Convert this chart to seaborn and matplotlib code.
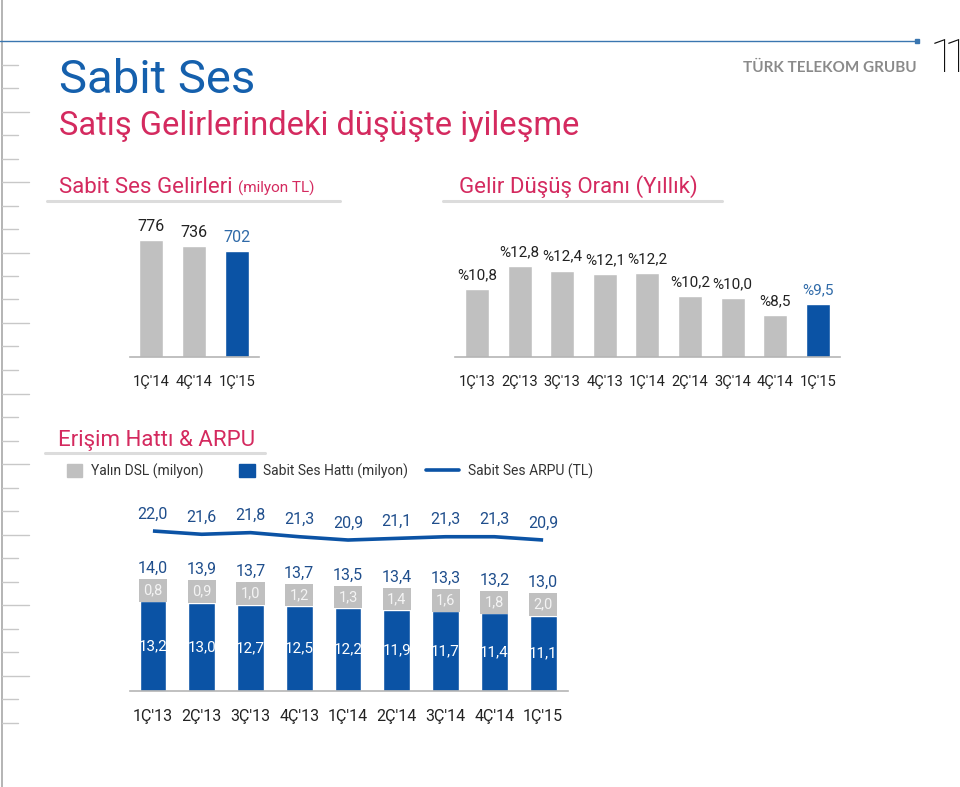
import numpy as np
import matplotlib.pyplot as plt
import matplotlib.patches as mpatches
from matplotlib.lines import Line2D
from matplotlib.legend_handler import HandlerPatch
import seaborn as sns

# Sabit Ses Gelirleri (milyon TL)
rev_periods = ["1Ç'14", "4Ç'14", "1Ç'15"]
rev_values = [776, 736, 702]

# Gelir Düşüş Oranı (Yıllık), %
drop_periods = ["1Ç'13", "2Ç'13", "3Ç'13", "4Ç'13", "1Ç'14", "2Ç'14", "3Ç'14", "4Ç'14", "1Ç'15"]
drop_values = [10.8, 12.8, 12.4, 12.1, 12.2, 10.2, 10.0, 8.5, 9.5]

# Erişim Hattı & ARPU
line_periods = ["1Ç'13", "2Ç'13", "3Ç'13", "4Ç'13", "1Ç'14", "2Ç'14", "3Ç'14", "4Ç'14", "1Ç'15"]
pstn_values = [13.2, 13.0, 12.7, 12.5, 12.2, 11.9, 11.7, 11.4, 11.1]
dsl_values = [0.8, 0.9, 1.0, 1.2, 1.3, 1.4, 1.6, 1.8, 2.0]
total_values = [14.0, 13.9, 13.7, 13.7, 13.5, 13.4, 13.3, 13.2, 13.0]
arpu_values = [22.0, 21.6, 21.8, 21.3, 20.9, 21.1, 21.3, 21.3, 20.9]

BLUE = "#0b53a5"
GRAY = "#c0c0c0"
CRIMSON = "#d42a5f"
TITLE_BLUE = "#1560ad"
LABEL_BLUE = "#1f4e8c"
DARK = "#222222"

W, H = 960, 787

sns.set_theme(style="white")
plt.rcParams["font.family"] = ["Roboto", "DejaVu Sans"]


def fx(x):
    return x / W


def fy(y):
    return 1 - y / H


def add_ax(left, top, right, bottom):
    return fig.add_axes([fx(left), fy(bottom), (right - left) / W, (bottom - top) / H])


def dec(v, fmt="{:.1f}"):
    return fmt.format(v).replace(".", ",")


def style_ax(ax, tick_size):
    for s in ["top", "right", "left"]:
        ax.spines[s].set_visible(False)
    ax.spines["bottom"].set_color("#b5b5b5")
    ax.spines["bottom"].set_linewidth(1.2)
    ax.set_yticks([])
    ax.set_ylabel("")
    ax.set_xlabel("")
    ax.tick_params(axis="x", length=0, pad=13, labelsize=tick_size, labelcolor=DARK)
    ax.patch.set_alpha(0)


fig = plt.figure(figsize=(W / 100, H / 100), dpi=100)

# page decoration
fig.add_artist(Line2D([fx(2), fx(2)], [0, 1], color="#a8a8a8", lw=1.2))
for i in range(29):
    y = 64.5 + 23.5 * i
    length = 27 if (i - 2) % 3 == 0 else 16
    fig.add_artist(Line2D([fx(2), fx(2 + length)], [fy(y), fy(y)], color="#c8c8c8", lw=1))
fig.add_artist(Line2D([0, fx(917)], [fy(41), fy(41)], color="#3a76b0", lw=1))
fig.add_artist(Line2D([fx(917)], [fy(41)], marker="s", ms=3, color="#3a76b0"))

fig.text(fx(917), fy(72), "TÜRK TELEKOM GRUBU", ha="right", va="baseline",
         fontsize=11, fontweight="bold", color="#8a8a8a", family=["Lato", "DejaVu Sans"])
# page number, drawn narrow like the original
for k, x in enumerate([930, 944]):
    fig.text(fx(x), fy(72), "11"[k], ha="left", va="baseline", fontsize=34,
             fontweight="light", color="#111111")

fig.text(fx(59), fy(93), "Sabit Ses", ha="left", va="baseline", fontsize=34, color=TITLE_BLUE)
fig.text(fx(59), fy(135), "Satış Gelirlerindeki düşüşte iyileşme", ha="left", va="baseline",
         fontsize=23.5, color=CRIMSON)

t = fig.text(fx(59), fy(193), "Sabit Ses Gelirleri ", ha="left", va="baseline",
             fontsize=16, color=CRIMSON)
fig.canvas.draw()
bb = t.get_window_extent()
fig.text(bb.x1 / W, fy(193), "(milyon TL)", ha="left", va="baseline", fontsize=11, color=CRIMSON)
fig.text(fx(459), fy(193), "Gelir Düşüş Oranı (Yıllık)", ha="left", va="baseline",
         fontsize=16, color=CRIMSON)
fig.text(fx(58), fy(446), "Erişim Hattı & ARPU", ha="left", va="baseline",
         fontsize=16, color=CRIMSON)

for x0, x1, y in [(47, 340, 201), (443, 722, 201), (45, 265, 453)]:
    fig.add_artist(Line2D([fx(x0), fx(x1)], [fy(y), fy(y)], color="#dcdcdc", lw=2.2))

# revenue chart
ax1 = add_ax(130, 210, 259, 357)
sns.barplot(x=rev_periods, y=rev_values, hue=rev_periods, palette=[GRAY, GRAY, BLUE],
            legend=False, width=0.56, saturation=1, ax=ax1)
ax1.set_xlim(-0.49, 2.52)
ax1.set_ylim(0, 147 / 0.151)
style_ax(ax1, 10.5)
for i, v in enumerate(rev_values):
    c = "#2f6aa8" if i == len(rev_values) - 1 else DARK
    ax1.annotate(str(v), (i, v), xytext=(0, 13), textcoords="offset pixels",
                 ha="center", va="center", fontsize=11.5, color=c)

# decline rate chart
ax2 = add_ax(455, 230, 840, 357)
sns.barplot(x=drop_periods, y=drop_values, hue=drop_periods,
            palette=[GRAY] * (len(drop_values) - 1) + [BLUE],
            legend=False, width=0.56, saturation=1, ax=ax2)
ax2.set_xlim(-0.516, 8.52)
ax2.set_ylim(4.89, 4.89 + 127 / 11.5)
style_ax(ax2, 10.5)
for i, v in enumerate(drop_values):
    c = "#2f6aa8" if i == len(drop_values) - 1 else DARK
    ax2.annotate("%" + dec(v), (i, v), xytext=(0, 14), textcoords="offset pixels",
                 ha="center", va="center", fontsize=11, color=c)

# lines & ARPU chart
ax3 = add_ax(130, 500, 568, 691)
stack_tops = [p + d for p, d in zip(pstn_values, dsl_values)]
sns.barplot(x=line_periods, y=stack_tops, color=GRAY, width=0.55, saturation=1, ax=ax3)
sns.barplot(x=line_periods, y=pstn_values, color=BLUE, width=0.55, saturation=1, ax=ax3)
ax3.set_xlim(-0.47, 8.51)
ax3.set_ylim(0, 191 / 6.8)
style_ax(ax3, 11.5)
for i in range(len(line_periods)):
    p = pstn_values[i]
    ax3.annotate(dec(p), (i, p / 2), ha="center", va="center", fontsize=11, color="white")
    ax3.annotate(dec(dsl_values[i]), (i, p), xytext=(0, 11), textcoords="offset pixels",
                 ha="center", va="center", fontsize=10.5, color="#f4f4f4",
                 bbox=dict(boxstyle="square,pad=0.3", fc=GRAY, ec="none"))
    ax3.annotate(dec(total_values[i]), (i, p), xytext=(0, 33), textcoords="offset pixels",
                 ha="center", va="center", fontsize=11.5, color=LABEL_BLUE)

ax3b = ax3.twinx()
sns.lineplot(x=list(range(len(arpu_values))), y=arpu_values, color=BLUE, lw=2.6, ax=ax3b)
ax3b.lines[0].set_solid_capstyle("butt")
ax3b.set_ylim(22.0 - 160 / 8.2, 22.0 - 160 / 8.2 + 191 / 8.2)
ax3b.set_xlim(ax3.get_xlim())
for s in ax3b.spines.values():
    s.set_visible(False)
ax3b.set_yticks([])
ax3b.set_ylabel("")
for i, v in enumerate(arpu_values):
    ax3b.annotate(dec(v), (i, v), xytext=(0, 17), textcoords="offset pixels",
                  ha="center", va="center", fontsize=11.5, color=LABEL_BLUE)


# legend
def square_patch(legend, orig_handle, xdescent, ydescent, width, height, fontsize):
    side = height
    return mpatches.Rectangle((-xdescent + width - side * 1.15, -ydescent), side * 1.15, side)


handles = [mpatches.Patch(color=GRAY), mpatches.Patch(color=BLUE),
           Line2D([], [], color=BLUE, lw=2.6)]
labels = ["Yalın DSL (milyon)", "Sabit Ses Hattı (milyon)", "Sabit Ses ARPU (TL)"]
leg = fig.legend(handles, labels, loc="center left", bbox_to_anchor=(fx(49), fy(471)),
                 ncol=3, frameon=False, fontsize=10, handlelength=2.4, handleheight=1.1,
                 handletextpad=0.6, columnspacing=1.3, borderpad=0, borderaxespad=0,
                 handler_map={mpatches.Patch: HandlerPatch(patch_func=square_patch)})
for txt in leg.get_texts():
    txt.set_color("#333333")

fig.savefig("out.png", dpi=100)
